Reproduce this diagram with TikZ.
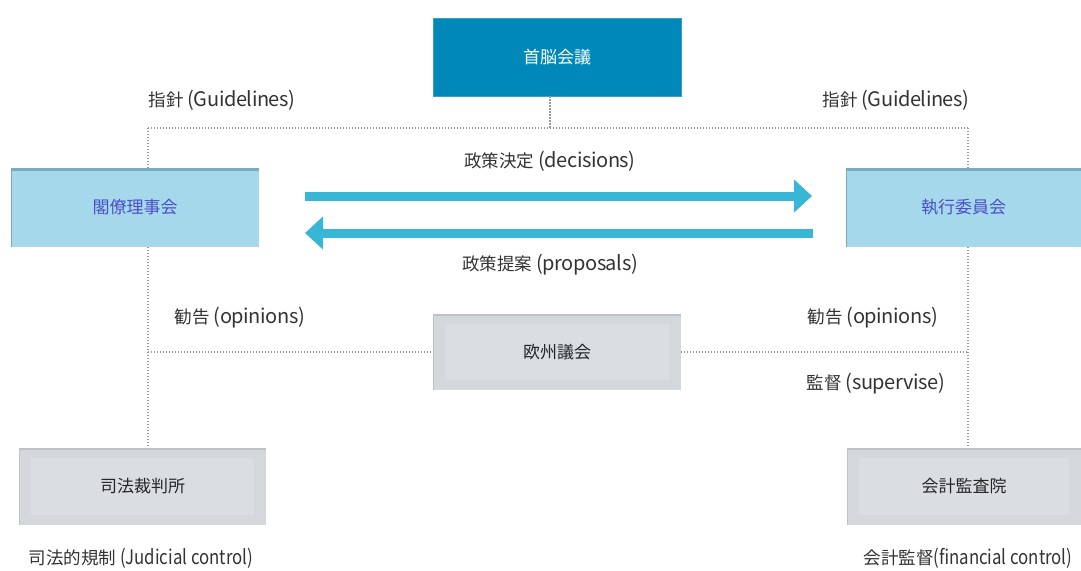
\documentclass[tikz,border=0pt]{standalone}
\usepackage{fontspec}
\setmainfont{Noto Sans CJK JP}
\usetikzlibrary{arrows.meta,calc}
\definecolor{topblue}{RGB}{0,137,184}
\definecolor{lightblue}{RGB}{164,216,234}
\definecolor{lbedge}{RGB}{122,170,190}
\definecolor{bluetext}{RGB}{74,80,200}
\definecolor{graybox}{RGB}{212,215,220}
\definecolor{grayinner}{RGB}{218,221,226}
\definecolor{grayedge}{RGB}{190,193,198}
\definecolor{arrowblue}{RGB}{56,182,214}
\definecolor{labeltext}{RGB}{51,51,51}
\newcommand\enpart[1]{{\fontsize{20}{22}\selectfont\addfontfeature{LetterSpace=-2}#1}}
\newcommand\ennarrow[1]{{\fontsize{20}{22}\selectfont\addfontfeature{FakeStretch=0.84}#1}}
\tikzset{
  boxfont/.style={font=\fontsize{17}{20}\selectfont},
  topbox/.style={boxfont, fill=topblue, text=white, draw=topblue!80!white, line width=0.8pt, inner sep=0pt},
  bluebox/.style={boxfont, fill=lightblue, text=bluetext, inner sep=0pt},
  graynode/.style={boxfont, fill=graybox, text=black, inner sep=0pt},
  lbl/.style={font=\fontsize{17.5}{20}\selectfont, text=labeltext, inner sep=0pt},
  dots/.style={gray!80, line width=1.1pt, dash pattern=on 1.1pt off 1.9pt},
  bigarrow/.style={arrowblue, line width=9pt, -{Triangle[length=18pt,width=32pt]}},
}
\begin{document}
\begin{tikzpicture}[x=1pt,y=-1pt]
\useasboundingbox (0,0) rectangle (1081,570);

% boxes
\node[topbox, minimum width=248pt, minimum height=78pt] (shuno) at (557,57) {首脳会議};
\node[bluebox, minimum width=248pt, minimum height=79pt] (kaku) at (135,207.5) {閣僚理事会};
\node[bluebox, minimum width=235pt, minimum height=79pt] (shikko) at (963.5,207.5) {執行委員会};
\node[graynode, minimum width=248pt, minimum height=76pt] (ou) at (557,352) {};
\node[graynode, minimum width=247pt, minimum height=77pt] (shiho) at (142.5,486.5) {};
\node[graynode, minimum width=234pt, minimum height=77pt] (kaikei) at (964,486.5) {};

% box edges
\foreach \b in {kaku,shikko}{
  \draw[lbedge, line width=3pt] ([yshift=-1.5pt]\b.north west) -- ([yshift=-1.5pt]\b.north east);
  \draw[lbedge, line width=1.5pt] ([xshift=0.75pt]\b.north west) -- ([xshift=0.75pt]\b.south west);
}
\foreach \b in {ou,shiho,kaikei}{
  \fill[grayinner] ([xshift=12pt,yshift=-10pt]\b.north west) rectangle ([xshift=-12pt,yshift=10pt]\b.south east);
  \draw[grayedge, line width=2pt] ([yshift=-1pt]\b.north west) -- ([yshift=-1pt]\b.north east);
  \draw[grayedge, line width=1pt] ([xshift=0.5pt]\b.north west) -- ([xshift=0.5pt]\b.south west);
}
\node[boxfont, text=black!85] at (ou.center) {欧州議会};
\node[boxfont, text=black!85] at (shiho.center) {司法裁判所};
\node[boxfont, text=black!85] at (kaikei.center) {会計監査院};

% dotted connectors
\coordinate (tj) at (550,128);
\coordinate (tl) at (148,128);
\coordinate (tr) at (968,128);
\draw[dots] (shuno.south -| tj) -- (tj);
\draw[dots] (tl) -- (tr);
\draw[dots] (tl) -- (tl |- kaku.north);
\draw[dots] (tr) -- (tr |- shikko.north);
\draw[dots] (kaku.south -| tl) -- (shiho.north -| tl);
\draw[dots] (shikko.south -| tr) -- (kaikei.north -| tr);
\draw[dots] (tl |- ou.west) -- (ou.west);
\draw[dots] (ou.east) -- (tr |- ou.east);

% big arrows
\coordinate (a1s) at (305,196);
\coordinate (a1e) at (812,196);
\coordinate (a2s) at (813,233);
\coordinate (a2e) at (305,233);
\draw[bigarrow] (a1s) -- (a1e);
\draw[bigarrow] (a2s) -- (a2e);

% labels
\node[lbl] (g1) at (222,100) {指針 \enpart{(Guidelines)}};
\node[lbl] (g2) at (896,100) {指針 \enpart{(Guidelines)}};
\node[lbl] (dec) at (550,161) {政策決定 \enpart{(decisions)}};
\node[lbl] (prop) at (550,265) {政策提案 \enpart{(proposals)}};
\node[lbl] (op1) at (240,318) {勧告 \enpart{(opinions)}};
\node[lbl] (op2) at (873,318) {勧告 \enpart{(opinions)}};
\node[lbl] (sup) at (876,384) {監督 \enpart{(supervise)}};
\node[lbl] (jud) at (141,558) {司法的規制 \ennarrow{(Judicial control)}};
\node[lbl] (fin) at (968,558) {会計監督\ennarrow{(financial control)}};
\end{tikzpicture}
\end{document}
